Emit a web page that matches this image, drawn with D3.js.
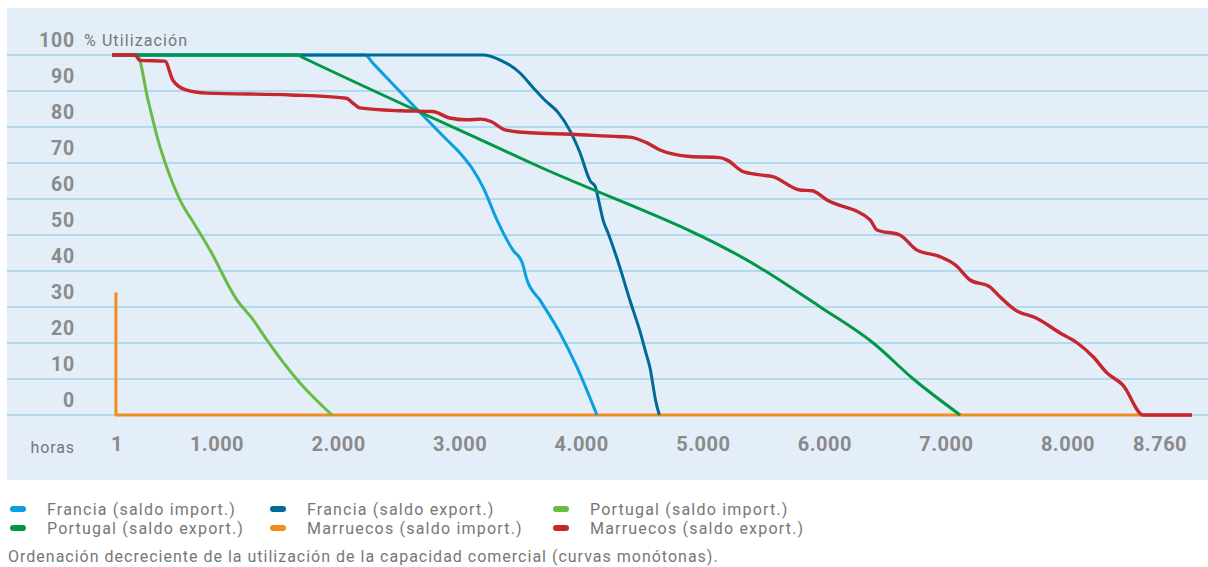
<!DOCTYPE html>
<html><head><meta charset="utf-8">
<script src="https://cdn.jsdelivr.net/npm/d3@7/dist/d3.min.js"></script>
<style>
html,body{margin:0;padding:0;background:#fff;}
svg{display:block;font-family:Roboto,"Noto Sans",sans-serif;}
</style></head>
<body><svg id="c" width="1208" height="567"></svg>
<script>
// ---------- DATA ----------
const yTickValues = [100, 90, 80, 70, 60, 50, 40, 30, 20, 10, 0];
const xTickValues = [1, 1000, 2000, 3000, 4000, 5000, 6000, 7000, 8000, 8760];
const xTickLabels = ["1", "1.000", "2.000", "3.000", "4.000", "5.000", "6.000", "7.000", "8.000", "8.760"];

const francia_import_h = [1, 2053, 2120, 2718, 2823, 2920, 3010, 3123, 3253, 3326, 3367, 3472, 3634, 3772, 3934];
const francia_import_v = [100, 100, 97.6, 76.4, 72.8, 68.6, 63.3, 54.2, 45.8, 42.5, 37.5, 31.9, 22.8, 13.3, 0];

const francia_export_h = [1, 3010, 3150, 3310, 3415, 3510, 3620, 3715, 3795, 3880, 3920, 3945, 3985, 4025, 4120, 4200, 4285, 4325, 4365, 4410, 4440];
const francia_export_v = [100, 100, 98.6, 95, 91, 87.5, 84, 79, 73, 65, 63.5, 60, 54, 50.5, 41, 32, 23, 18, 13, 4, 0];

const portugal_import_h = [1, 204, 293, 374, 447, 553, 674, 796, 1015, 1136, 1258, 1388, 1526, 1785];
const portugal_import_v = [100, 100, 87.5, 76.4, 68.6, 59.7, 52.8, 45.8, 31.9, 26.9, 20.8, 14.7, 8.9, 0];

const portugal_export_h = [1, 1505, 1560, 3400, 5300, 5745, 6175, 6500, 6880];
const portugal_export_v = [100, 100, 99.1, 70, 40, 30, 20, 10, 0];

const marruecos_import_h = [33, 33, 8760];
const marruecos_import_v = [34, 0, 0];

const marruecos_export_h = [1, 190, 225, 430, 495, 600, 770, 1450, 1900, 1960, 2010, 2340, 2600, 2740, 2880, 2990, 3070, 3190, 3390, 3720, 4120, 4200, 4340, 4445, 4690, 4930, 4990, 5120, 5260, 5360, 5580, 5680, 5800, 6150, 6205, 6390, 6530, 6715, 6840, 6960, 7120, 7200, 7325, 7500, 7690, 7830, 7960, 8070, 8200, 8365, 8760];
const marruecos_export_v = [100, 100, 98.5, 98.3, 93, 90.3, 89.4, 88.9, 88, 86.5, 85.3, 84.5, 84.3, 82.5, 82, 82.2, 81.6, 79.2, 78.4, 78, 77.3, 77.2, 75.6, 73.6, 71.8, 71.5, 70.8, 67.6, 66.7, 66.2, 62.5, 62.3, 59.7, 54.2, 51.4, 50, 45.8, 44, 41.7, 37.5, 35.6, 32.9, 29.2, 26.9, 22.8, 20, 16.1, 11.7, 8.3, 0, 0];

const seriesNames = ["Francia (saldo import.)", "Francia (saldo export.)", "Portugal (saldo import.)",
                     "Portugal (saldo export.)", "Marruecos (saldo import.)", "Marruecos (saldo export.)"];
const seriesColors = ["#0aa0e0", "#006a96", "#68bc45", "#009846", "#f28c1e", "#c6262d"];

const yAxisTitle = "% Utilización";
const xAxisTitle = "horas";
const caption = "Ordenación decreciente de la utilización de la capacidad comercial (curvas monótonas).";

// ---------- CHART ----------
const svg = d3.select("#c");
const W = 1208;

const x = d3.scaleLinear().domain([1, 8760]).range([112, 1192]);
const xLabel = d3.scaleLinear().domain([1, 1000, 8000, 8760]).range([117, 217, 1068, 1160]);
const y = d3.scaleLinear().domain([0, 100]).range([415, 55]);

// panel
svg.append("rect").attr("x", 7).attr("y", 8).attr("width", W - 7).attr("height", 472).attr("fill", "#e4eef8");

// gridlines
svg.append("g").selectAll("line").data(yTickValues).join("line")
  .attr("x1", 7).attr("x2", W)
  .attr("y1", d => y(d)).attr("y2", d => y(d))
  .attr("stroke", "#a3d2ec").attr("stroke-width", 1.6);

// y labels
svg.append("g").selectAll("text").data(yTickValues).join("text")
  .attr("x", 75).attr("y", d => y(d) - 15)
  .attr("dy", "0.36em").attr("text-anchor", "end")
  .attr("font-size", 19.5).attr("font-weight", 700).attr("fill", "#8a8a8a").attr("letter-spacing", 0.8)
  .text(d => d);

svg.append("text").attr("x", 84).attr("y", y(100) - 15).attr("dy", "0.36em")
  .attr("font-size", 16).attr("fill", "#777").attr("letter-spacing", 1.1).text(yAxisTitle);

// x labels
svg.append("g").selectAll("text").data(xTickValues).join("text")
  .attr("x", d => xLabel(d)).attr("y", 444).attr("dy", "0.36em")
  .attr("text-anchor", "middle")
  .attr("font-size", 20).attr("font-weight", 700).attr("fill", "#8a8a8a").attr("letter-spacing", 0.5)
  .text((d, i) => xTickLabels[i]);

svg.append("text").attr("x", 75).attr("y", 447).attr("dy", "0.36em").attr("text-anchor", "end")
  .attr("font-size", 16).attr("fill", "#777").attr("letter-spacing", 0.9).text(xAxisTitle);

// lines
const hs = [francia_import_h, francia_export_h, portugal_import_h, portugal_export_h, marruecos_import_h, marruecos_export_h];
const vs = [francia_import_v, francia_export_v, portugal_import_v, portugal_export_v, marruecos_import_v, marruecos_export_v];
const drawOrder = [4, 2, 0, 1, 3, 5];

const smooth = d3.line().x(d => x(d[0])).y(d => y(d[1])).curve(d3.curveMonotoneX);
const straight = d3.line().x(d => x(d[0])).y(d => y(d[1]));

const gl = svg.append("g");
drawOrder.forEach(i => {
  const pts = hs[i].map((h, k) => [h, vs[i][k]]);
  gl.append("path").datum(pts)
    .attr("d", i === 4 ? straight : smooth)
    .attr("fill", "none").attr("stroke", seriesColors[i])
    .attr("stroke-width", i === 5 ? 3.4 : 3)
    .attr("stroke-linejoin", "round");
});

// legend
const colX = [10, 270, 553];
const rowY = [509, 528];
const lg = svg.append("g");
seriesNames.forEach((name, i) => {
  const cx = colX[i % 3], cy = rowY[Math.floor(i / 3)];
  lg.append("rect").attr("x", cx).attr("y", cy - 3).attr("width", 16).attr("height", 6).attr("rx", 3)
    .attr("fill", seriesColors[i]);
  lg.append("text").attr("x", cx + 37).attr("y", cy).attr("dy", "0.36em")
    .attr("font-size", 16).attr("fill", "#777").attr("letter-spacing", 1.2).text(name);
});

svg.append("text").attr("x", 8).attr("y", 556).attr("dy", "0.36em")
  .attr("font-size", 16).attr("fill", "#777").attr("letter-spacing", 1.0).text(caption);
</script>
</body></html>
